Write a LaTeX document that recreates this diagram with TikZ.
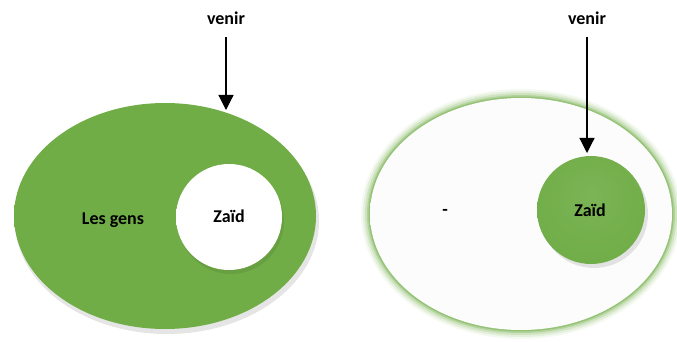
\documentclass[tikz,border=0pt]{standalone}
\usepackage{fontspec}
\setmainfont{Carlito}
\usetikzlibrary{shapes.geometric,arrows.meta}
\definecolor{offgreen}{RGB}{112,173,71}
\definecolor{lightgreen}{RGB}{145,200,100}
\definecolor{darkgreen}{RGB}{98,158,58}
\pgfdeclareradialshading{whiteball}{\pgfpoint{0bp}{6bp}}{%
  color(0bp)=(white); color(32bp)=(white); color(44bp)=(gray!18); color(50bp)=(gray!45)}
\pgfdeclareradialshading{greenball}{\pgfpoint{0bp}{8bp}}{%
  color(0bp)=(offgreen!92!white); color(30bp)=(offgreen); color(44bp)=(darkgreen); color(50bp)=(darkgreen!85!black)}
\pgfdeclareradialshading{greenell}{\pgfpoint{0bp}{4bp}}{%
  color(0bp)=(offgreen); color(38bp)=(offgreen); color(46bp)=(offgreen!90!white); color(50bp)=(lightgreen)}
\pgfdeclareradialshading{whiteell}{\pgfpoint{3bp}{0bp}}{%
  color(0bp)=(white!98!gray); color(38bp)=(white!97!gray); color(46bp)=(white!92!gray); color(50bp)=(white)}
\tikzset{
  lbl/.style={font=\fontsize{18}{20}\selectfont\bfseries, text=black},
  bigell/.style={ellipse, inner sep=0pt},
  ball/.style={circle, inner sep=0pt},
  arr/.style={line width=1.2pt, -{Triangle[width=15pt,length=15pt]}},
}
\begin{document}
\begin{tikzpicture}[x=1pt,y=-1pt]
\useasboundingbox (0,0) rectangle (677,342);
% ---------- left ----------
\fill[black, opacity=0.10] (167,221) ellipse [x radius=152, y radius=113];
\node[bigell, minimum width=302pt, minimum height=226pt, shading=greenell] (E1) at (165,216) {};
\fill[black, opacity=0.08] (231,221) circle [radius=53];
\node[ball, minimum size=106pt, shading=whiteball] (C1) at (229,217) {};
\node[lbl] (g1) at (113,220) {Les gens};
\node[lbl] (z1) at (229,216) {Zaïd};
\node[lbl] (v1) at (226,18) {venir};
\coordinate (t1) at (226,110);
\draw[arr] (v1.south |- 0,37) -- (t1);
% ---------- right ----------
\foreach \w/\o in {18/0.08,14/0.12,10/0.18,6/0.30,3/0.45}
  \draw[offgreen, line width=\w pt, opacity=\o] (521,214) ellipse [x radius=151, y radius=116];
\node[bigell, minimum width=302pt, minimum height=232pt, shading=whiteell] (E2) at (521,214) {};
\fill[black, opacity=0.10] (594,214) circle [radius=54];
\node[ball, minimum size=108pt, shading=greenball] (C2) at (591,210) {};
\node[lbl] (m2) at (445,212) {-};
\node[lbl] (z2) at (590,210) {Zaïd};
\node[lbl] (v2) at (587,18) {venir};
\coordinate (t2) at (587,153);
\draw[arr] (v2.south |- 0,37) -- (t2);
\end{tikzpicture}
\end{document}
